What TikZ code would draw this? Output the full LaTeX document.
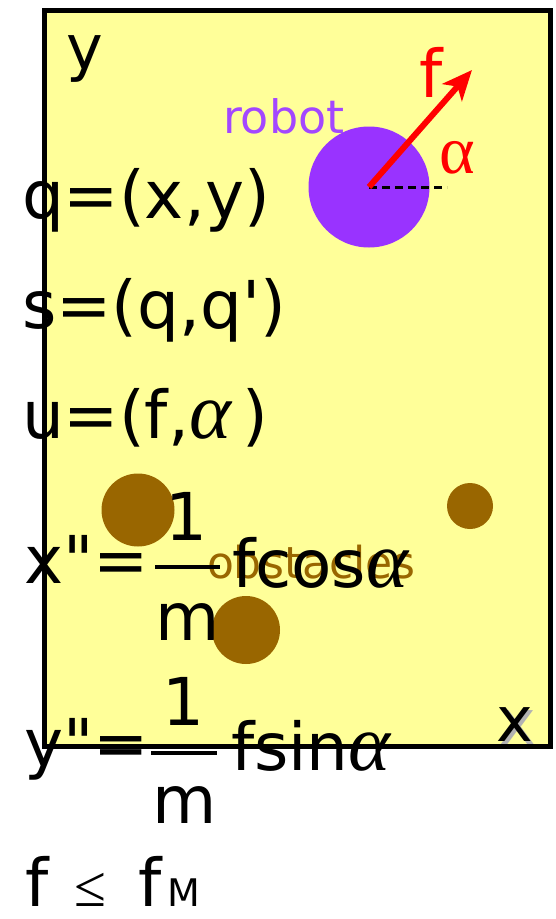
\documentclass[tikz,border=0pt]{standalone}
\usepackage{fontspec}
\newfontfamily\comic{DejaVu Sans}
\newfontfamily\serifgreek{Liberation Serif}
\usetikzlibrary{arrows.meta}
\definecolor{pad}{HTML}{FFFF99}
\definecolor{robotc}{HTML}{9933FF}
\definecolor{obst}{HTML}{996600}
\newcommand{\ang}{{\serifgreek\itshape\fontsize{80}{80}\selectfont α}}

\begin{document}
\begin{tikzpicture}[x=1pt, y=-1pt, every node/.style={inner sep=0pt, outer sep=0pt},
  eqn/.style={font=\comic\fontsize{66}{66}\selectfont, anchor=base west},
  num/.style={font=\comic\fontsize{66}{66}\selectfont, anchor=base},
  obstacle/.style={circle, fill=obst}]
  \useasboundingbox (0,0) rectangle (556,919);
  \draw[line width=5pt, fill=pad] (44,10) rectangle (550,746);
  \node[obstacle, minimum size=73pt] (obs1) at (138,510) {};
  \node[obstacle, minimum size=46pt] (obs2) at (470,506) {};
  \node[obstacle, minimum size=68pt] (obs3) at (246,630) {};
  \node[circle, fill=robotc, minimum size=121pt] (robot) at (369,187) {};
  \coordinate (dashend) at (447,187);
  \coordinate (ftip) at (472,70);
  \draw[line width=3pt, dash pattern=on 8pt off 5pt] (robot.center) -- (dashend);
  \draw[red, line width=6pt, -{Stealth[length=30pt, width=26pt, inset=8pt]}] (robot.center) -- (ftip);
  \node[red, font=\comic\fontsize{66}{66}\selectfont] (flabel) at (431,72) {f};
  \node[red, font=\serifgreek\fontsize{68}{68}\selectfont] (alphalabel) at (457,158) {α};
  \node[robotc!90!white, font=\comic\fontsize{46}{46}\selectfont, anchor=base west] (robotlabel) at (223,133) {robot};
  \node[font=\comic\fontsize{62}{62}\selectfont, anchor=base west] (yaxis) at (66,69) {y};
  \node[gray!60, font=\comic\fontsize{62}{62}\selectfont] (xshadow) at (518,728) {x};
  \node[font=\comic\fontsize{62}{62}\selectfont] (xaxis) at (515,725) {x};
  \node[eqn] (qdef) at (22,218) {q=(x,y)};
  \node[eqn] (sdef) at (22,328) {s=(q,q')};
  \node[eqn] (udef) at (22,438) {u=(f,\ang\,)};
  \node[obst, font=\comic\fontsize{44}{44}\selectfont, anchor=base west] (obslabel) at (207,578) {obstacles};
  \node[eqn] (xacc) at (24,583) {x"=};
  \node[num] (xone) at (186,540) {1};
  \node[num] (xm) at (188,640) {m};
  \draw[line width=4pt] (155,567) -- (220,567);
  \node[eqn] (xrhs) at (232,587) {fcos\ang};
  \node[eqn] (yacc) at (24,766) {y"=};
  \node[num] (yone) at (183,725) {1};
  \node[num] (ym) at (185,823) {m};
  \draw[line width=4pt] (151,753) -- (217,753);
  \node[eqn] (yrhs) at (231,770) {fsin\ang};
  \node[eqn] (fbound) at (25,906) {f\hspace{26pt}{\serifgreek\fontsize{58}{58}\selectfont ≤}\hspace{32pt}f\hspace{6pt}{\fontsize{38}{38}\selectfont M}};
\end{tikzpicture}
\end{document}
